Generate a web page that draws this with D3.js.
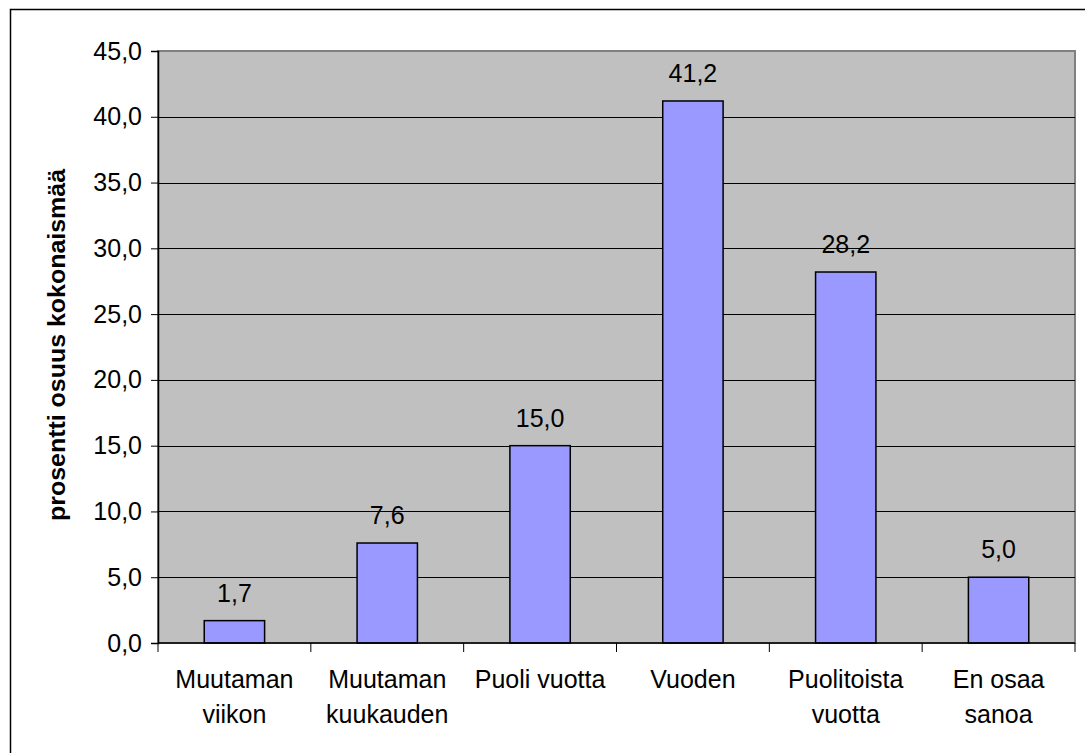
<!DOCTYPE html>
<html>
<head>
<meta charset="utf-8">
<script src="https://cdn.jsdelivr.net/npm/d3@7"></script>
<style>
  body { margin: 0; background: #fff; }
  text { font-family: "Liberation Sans", Arial, sans-serif; fill: #000; }
</style>
</head>
<body>
<svg id="chart" width="1085" height="753"></svg>
<script>
// values
var categories = [["Muutaman", "viikon"], ["Muutaman", "kuukauden"], ["Puoli vuotta"], ["Vuoden"], ["Puolitoista", "vuotta"], ["En osaa", "sanoa"]];
var values = [1.7, 7.6, 15.0, 41.2, 28.2, 5.0];
var yTicks = [0, 5, 10, 15, 20, 25, 30, 35, 40, 45];
var yTitle = "prosentti osuus kokonaismää";

var margin = {top: 51, left: 158, right: 10, bottom: 110};
var w = 1075 - margin.left;
var h = 643 - margin.top;

var svg = d3.select("#chart");

// outer chart border
svg.append("rect")
    .attr("x", 10.5).attr("y", 9.5)
    .attr("width", 1100).attr("height", 800)
    .attr("fill", "#fff").attr("stroke", "#000").attr("stroke-width", 1.5);

var chart = svg.append("g")
    .attr("transform", "translate(" + margin.left + "," + margin.top + ")");

var idx = d3.range(categories.length);
var x = d3.scaleBand().domain(idx).range([0, w]).paddingInner(0).paddingOuter(0);
var y = d3.scaleLinear().domain([0, 45]).range([h, 0]);

// plot area
chart.append("rect")
    .attr("x", 0).attr("y", 0).attr("width", w).attr("height", h)
    .attr("fill", "#c0c0c0").attr("stroke", "#808080").attr("stroke-width", 2);

// gridlines
chart.selectAll(".grid")
    .data(yTicks.slice(1, -1))
    .enter().append("line")
    .attr("x1", 0).attr("x2", w)
    .attr("y1", function(d) { return Math.round(y(d)) + 0.5; })
    .attr("y2", function(d) { return Math.round(y(d)) + 0.5; })
    .attr("stroke", "#000").attr("stroke-width", 1);

// bars
var bw = x.bandwidth() * 0.395;
chart.selectAll(".bar")
    .data(values)
    .enter().append("rect")
    .attr("x", function(d, i) { return x(i) + (x.bandwidth() - bw) / 2; })
    .attr("y", function(d) { return y(d); })
    .attr("width", bw)
    .attr("height", function(d) { return h - y(d); })
    .attr("fill", "#9999ff").attr("stroke", "#000").attr("stroke-width", 1.5);

// value labels
chart.selectAll(".val")
    .data(values)
    .enter().append("text")
    .attr("x", function(d, i) { return x(i) + x.bandwidth() / 2; })
    .attr("y", function(d) { return y(d) - 19; })
    .attr("text-anchor", "middle")
    .style("font-size", "25px")
    .text(function(d) { return d3.format(".1f")(d).replace(".", ","); });

// y axis
var yAxis = d3.axisLeft(y)
    .tickValues(yTicks)
    .tickSize(7)
    .tickPadding(9)
    .tickFormat(function(d) { return d3.format(".1f")(d).replace(".", ","); });

var gy = chart.append("g").call(yAxis);
gy.select(".domain").attr("stroke", "#000").attr("stroke-width", 1.5);
gy.selectAll("text").style("font-size", "25px").attr("fill", "#000")
    .style("font-family", "Liberation Sans, Arial, sans-serif");

// x axis with ticks at category boundaries
chart.append("line")
    .attr("x1", 0).attr("x2", w).attr("y1", h).attr("y2", h)
    .attr("stroke", "#000").attr("stroke-width", 1.5);
chart.selectAll(".xtick")
    .data(d3.range(categories.length + 1))
    .enter().append("line")
    .attr("x1", function(d) { return d * x.step(); })
    .attr("x2", function(d) { return d * x.step(); })
    .attr("y1", h).attr("y2", h + 9)
    .attr("stroke", "#000").attr("stroke-width", 1);

var xl = chart.selectAll(".xlab")
    .data(categories)
    .enter().append("text")
    .attr("text-anchor", "middle")
    .attr("transform", function(d, i) { return "translate(" + (x(i) + x.bandwidth() / 2) + "," + (h + 45) + ")"; })
    .style("font-size", "25px");
xl.selectAll("tspan")
    .data(function(d) { return d; })
    .enter().append("tspan")
    .attr("x", 0)
    .attr("dy", function(d, i) { return i === 0 ? 0 : 35; })
    .text(function(d) { return d; });

// y title
svg.append("text")
    .attr("transform", "translate(65,345) rotate(-90)")
    .attr("text-anchor", "middle")
    .attr("textLength", 352)
    .attr("lengthAdjust", "spacingAndGlyphs")
    .style("font-size", "23px")
    .style("font-weight", "bold")
    .text(yTitle);
</script>
</body>
</html>
